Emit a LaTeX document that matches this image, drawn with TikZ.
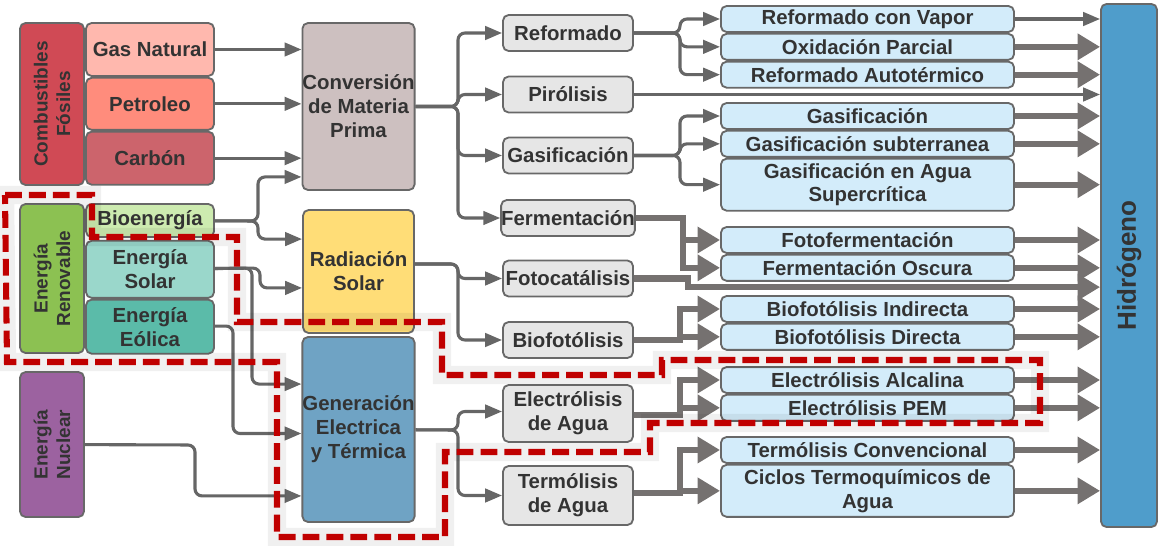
\documentclass[tikz,border=0pt]{standalone}
\usepackage{fontspec}
\setmainfont{Liberation Sans}
\usetikzlibrary{shapes,arrows.meta,positioning}

\definecolor{borde}{HTML}{686868}
\definecolor{texto}{HTML}{333333}
\definecolor{lineagris}{HTML}{666666}
\definecolor{flechagris}{HTML}{757170}
\definecolor{rojo}{HTML}{D04A55}
\definecolor{gasnatural}{HTML}{FFB8AE}
\definecolor{petro}{HTML}{FF8C7C}
\definecolor{carbo}{HTML}{CC646C}
\definecolor{verde}{HTML}{8CC152}
\definecolor{bioverde}{HTML}{CDEBB0}
\definecolor{solarcol}{HTML}{9AD7CB}
\definecolor{eolicol}{HTML}{5BBBA9}
\definecolor{morado}{HTML}{9C62A0}
\definecolor{materia}{HTML}{CDC0C0}
\definecolor{amarillo}{HTML}{FFDD77}
\definecolor{azulgen}{HTML}{6FA3C4}
\definecolor{gris}{HTML}{E6E6E6}
\definecolor{celeste}{HTML}{D3ECFA}
\definecolor{azulh}{HTML}{4F9DCB}
\definecolor{rojolinea}{HTML}{C00000}

\begin{document}
\begin{tikzpicture}[x=0.025cm, y=-0.025cm, node distance=0pt, auto]
  % Estilos
  \tikzstyle{caja} = [rectangle, draw=borde, line width=1.3pt, rounded corners=4pt,
  text=texto, font=\bfseries\fontsize{14.5}{17}\selectfont, align=center, inner sep=0pt]
  \tikzstyle{grupo} = [caja, rotate=90, minimum height=1.6cm,
  font=\bfseries\fontsize{13.5}{16}\selectfont]
  \tikzstyle{fuente} = [caja, minimum width=3.2cm]
  \tikzstyle{proceso} = [caja, minimum width=2.775cm]
  \tikzstyle{metodo} = [caja, fill=gris, minimum width=3.25cm, minimum height=0.9cm]
  \tikzstyle{tecnica} = [caja, fill=celeste, minimum width=7.325cm, minimum height=0.65cm]
  \tikzstyle{linea} = [draw=lineagris, line width=2.2pt, rounded corners=5pt]
  \tikzstyle{flecha} = [linea, -{Triangle[length=12pt,width=9.5pt]}]
  \tikzstyle{gruesa} = [draw=flechagris, line width=4.5pt, -{Triangle[length=16pt,width=18pt]}]
  \tikzstyle{limite} = [draw=rojolinea, line width=4.3pt, dash pattern=on 12pt off 5pt,
  preaction={draw=black, draw opacity=0.06, line width=13pt, solid}]

  \useasboundingbox (0,0) rectangle (1159,546);

  % Fuentes primarias
  \node [grupo, fill=rojo, minimum width=4.05cm] (comb) at (52,104) {Combustibles\\Fósiles};
  \node [grupo, fill=verde, minimum width=3.725cm] (renov) at (52,278.5) {Energía\\Renovable};
  \node [grupo, fill=morado, minimum width=3.625cm] (nuclear) at (52,444.5) {Energía\\Nuclear};

  \node [fuente, fill=gasnatural, minimum height=1.325cm] (gasnat) at (150,49.5) {Gas Natural};
  \node [fuente, fill=petro, minimum height=1.3cm, below = of gasnat] (petroleo) {Petroleo};
  \node [fuente, fill=carbo, minimum height=1.325cm, below = of petroleo] (carbon) {Carbón};
  \node [fuente, fill=bioverde, minimum height=0.825cm] (bioen) at (150,220.5) {Bioenergía};
  \node [fuente, fill=solarcol, minimum height=1.425cm, below = 0.05cm of bioen] (solar) {Energía\\Solar};
  \node [fuente, fill=eolicol, minimum height=1.35cm, below = of solar] (eolica) {Energía\\Eólica};

  % Procesos
  \node [proceso, fill=materia, minimum height=4.175cm] (conv) at (358.5,106.5) {Conversión\\de Materia\\Prima};
  \node [proceso, fill=amarillo, minimum height=3.075cm] (rad) at (358.5,271.5) {Radiación\\Solar};
  \node [proceso, fill=azulgen, minimum height=4.625cm] (gen) at (358.5,429.5) {Generación\\Electrica\\y Térmica};

  % Metodos
  \node [metodo] (reformado) at (568,33) {Reformado};
  \node [metodo] (pirolisis) at (568,94.5) {Pirólisis};
  \node [metodo] (gasif) at (568,155.5) {Gasificación};
  \node [metodo] (ferment) at (568,218) {Fermentación};
  \node [metodo] (fotocat) at (568,278.5) {Fotocatálisis};
  \node [metodo] (biofot) at (568,340) {Biofotólisis};
  \node [metodo, minimum height=1.425cm] (electro) at (568,413.5) {Electrólisis\\de Agua};
  \node [metodo, minimum height=1.475cm] (termo) at (568,495.5) {Termólisis\\de Agua};

  % Tecnicas
  \node [tecnica] (vapor) at (867.5,19) {Reformado con Vapor};
  \node [tecnica, below = of vapor] (oxid) {Oxidación Parcial};
  \node [tecnica, below = of oxid] (autot) {Reformado Autotérmico};
  \node [tecnica] (gasi) at (867.5,116) {Gasificación};
  \node [tecnica, below = of gasi] (gsub) {Gasificación subterranea};
  \node [tecnica, minimum height=1.3cm, below = of gsub] (gscw) {Gasificación en Agua\\Supercrítica};
  \node [tecnica] (fotoferm) at (867.5,240) {Fotofermentación};
  \node [tecnica, below = of fotoferm] (oscura) {Fermentación Oscura};
  \node [tecnica] (bind) at (867.5,309) {Biofotólisis Indirecta};
  \node [tecnica, below = of bind] (bdir) {Biofotólisis Directa};
  \node [tecnica] (alcal) at (867.5,380) {Electrólisis Alcalina};
  \node [tecnica, below = of alcal] (pem) {Electrólisis PEM};
  \node [tecnica] (tconv) at (867.5,450) {Termólisis Convencional};
  \node [tecnica, minimum height=1.3cm, below = of tconv] (ciclos) {Ciclos Termoquímicos de\\Agua};

  % rotado: su lado izquierdo es hidro.north
  \node [caja, rotate=90, fill=azulh, minimum width=13.075cm, minimum height=1.4cm,
  font=\bfseries\fontsize{18.5}{20}\selectfont] (hidro) at (1129,265.5) {Hidrógeno};

  % Puntos de bifurcacion
  \coordinate (bioBus) at (258,221);
  \coordinate (solA) at (252,268);
  \coordinate (solB) at (260,268);
  \coordinate (eolBus) at (233,326);
  \coordinate (nucBus) at (195,445);
  \coordinate (convBus) at (458,106.5);
  \coordinate (radBus) at (458,264);
  \coordinate (genBus) at (458,430);
  \coordinate (refBus) at (680,33);
  \coordinate (gasBus) at (680,155.5);
  \coordinate (fermBus) at (683,218);
  \coordinate (fotoBus) at (688,278.5);
  \coordinate (bioBus2) at (680,340);
  \coordinate (elecBus) at (680,415);
  \coordinate (termBus) at (680,493);

  % Fuentes a procesos
  \draw [flecha] (gasnat) -- (gasnat -| conv.west);
  \draw [flecha] (petroleo) -- (petroleo -| conv.west);
  \draw [flecha] (carbon) -- (carbon -| conv.west);
  \draw [flecha] (bioen) -- (bioBus) |- ([yshift=0.35cm]conv.south west);
  \draw [flecha] (bioen) -- (bioBus) |- ([yshift=-0.75cm]rad.north west);
  \draw [flecha] (solar) -- (solB) |- ([yshift=1.15cm]rad.south west);
  \draw [flecha] (solar) -- (solA) |- ([yshift=-1.2cm]gen.north west);
  \draw [flecha] (eolica) -- (eolBus) |- ([yshift=-0.1cm]gen.west);
  \draw [flecha] (nuclear) -- (nucBus) |- ([yshift=0.675cm]gen.south west);

  % Procesos a metodos
  \foreach \n in {reformado, pirolisis, gasif, ferment}
    \draw [flecha] (conv) -- (convBus) |- (\n);
  \foreach \n in {fotocat, biofot}
    \draw [flecha] (radBus -| rad.east) -- (radBus) |- (\n);
  \draw [flecha] (gen) -- (genBus) |- ([yshift=0.05cm]electro.west);
  \draw [flecha] (gen) -- (genBus) |- (termo);

  % Metodos a tecnicas
  \foreach \n in {vapor, oxid, autot}
    \draw [flecha] (reformado) -- (refBus) |- (\n);
  \foreach \n in {gasi, gsub, gscw}
    \draw [flecha] (gasif) -- (gasBus) |- (\n);
  \foreach \n in {fotoferm, oscura}
    \draw [gruesa] (ferment) -- (fermBus) |- (\n);
  \foreach \n in {bind, bdir}
    \draw [gruesa] (biofot) -- (bioBus2) |- (\n);
  \foreach \n in {alcal, pem}
    \draw [gruesa] (electro.east |- elecBus) -- (elecBus) |- (\n);
  \foreach \n in {tconv, ciclos}
    \draw [gruesa] (termo.east |- termBus) -- (termBus) |- (\n);

  % Hacia hidrogeno
  \draw [flecha] (vapor) -- (vapor -| hidro.north);
  \draw [flecha] (pirolisis) -- (pirolisis -| hidro.north);
  \draw [gruesa] (fotocat) -- (fotoBus) |- ([yshift=-0.54cm]hidro.north);
  \foreach \n in {oxid, autot, gasi, gsub, gscw, fotoferm, oscura, bind, bdir, alcal, pem, tconv, ciclos}
    \draw [gruesa] (\n) -- (\n -| hidro.north);

  % Limite electrico
  \draw [limite] (5,195) -- (92,195) -- (92,237) -- (237,237) -- (237,322) -- (442,322)
  -- (442,375) -- (662,375) -- (662,360) -- (1040,360) -- (1040,423) -- (650,423)
  -- (650,452) -- (445,452) -- (445,537) -- (277,537) -- (277,362) -- (7,362) -- cycle;
\end{tikzpicture}
\end{document}
